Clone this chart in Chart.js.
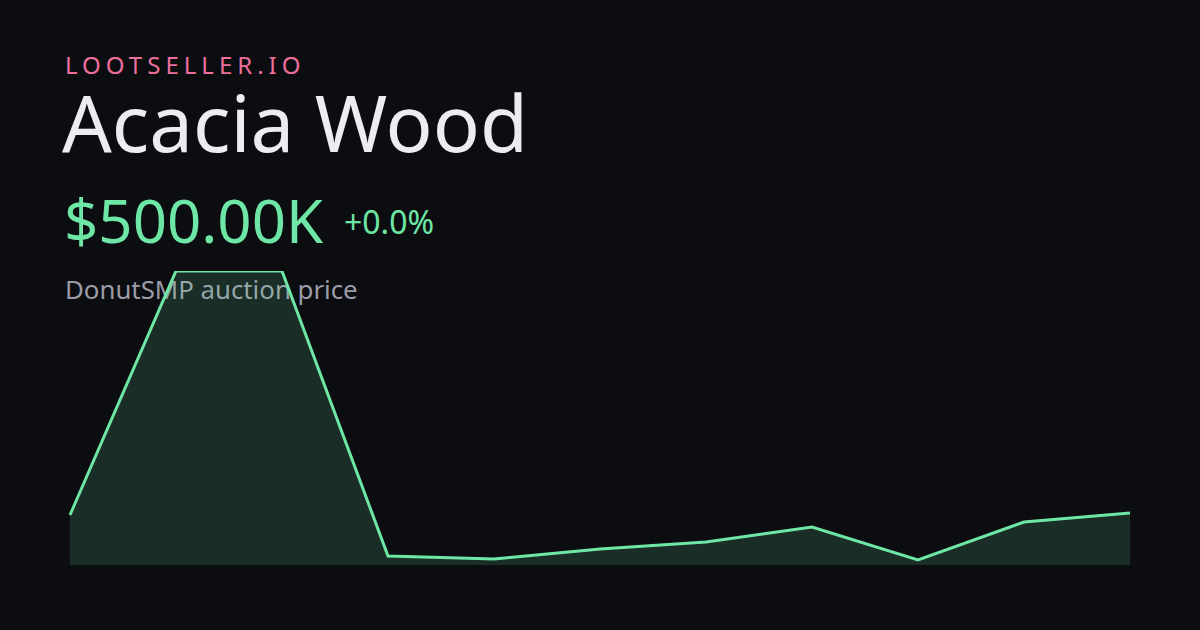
<!DOCTYPE html>
<html>
<head>
<meta charset="utf-8">
<script src="https://cdn.jsdelivr.net/npm/chart.js@4/dist/chart.umd.min.js"></script>
<style>
  html, body { margin: 0; padding: 0; }
  body { width: 1200px; height: 630px; background: #0c0d10; font-family: "Noto Sans", sans-serif; position: relative; overflow: hidden; }
  .brand { position: absolute; left: 65px; top: 48px; font-size: 24px; letter-spacing: 5px; color: #ec6f9e; }
  .title { position: absolute; left: 62px; top: 76px; font-size: 78px; color: #ececf1; line-height: 1.2; }
  .price { position: absolute; left: 64px; top: 184px; font-size: 60px; color: #6ee7a6; line-height: 1.2; }
  .change { position: absolute; left: 344px; top: 200px; font-size: 32px; color: #6ee7a6; }
  .sub { position: absolute; left: 65px; top: 271px; font-size: 25.8px; color: #9b9ca7; }
  #wrap { position: absolute; left: 60px; top: 261px; width: 1080px; height: 314px; }
</style>
</head>
<body>
<div class="brand">LOOTSELLER.IO</div>
<div class="title">Acacia Wood</div>
<div class="price">$500.00K</div>
<div class="change">+0.0%</div>
<div class="sub">DonutSMP auction price</div>
<div id="wrap"><canvas id="chart"></canvas></div>
<script>
const labels = ['1', '2', '3', '4', '5', '6', '7', '8', '9', '10', '11'];
const prices = [50, 294, 294, 9, 6, 16, 23, 38, 5, 43, 52];

new Chart(document.getElementById('chart'), {
  type: 'line',
  data: {
    labels,
    datasets: [{
      data: prices,
      borderColor: '#6ee7a6',
      backgroundColor: 'rgba(110,231,166,0.15)',
      borderWidth: 3,
      fill: 'start',
      tension: 0,
      pointRadius: 0
    }]
  },
  options: {
    responsive: true,
    maintainAspectRatio: false,
    animation: false,
    layout: { padding: 10 },
    plugins: { legend: { display: false }, tooltip: { enabled: false } },
    scales: {
      x: { display: false },
      y: { display: false, min: 0, max: 294 }
    }
  }
});
</script>
</body>
</html>
